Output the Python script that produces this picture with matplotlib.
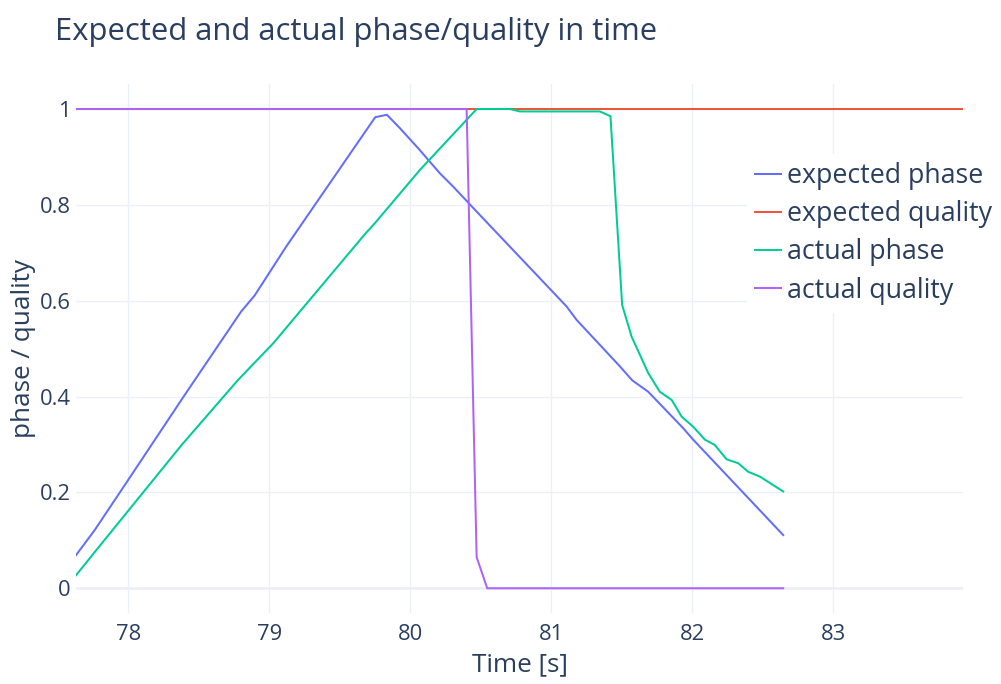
import matplotlib
matplotlib.use("Agg")
import matplotlib.pyplot as plt

# ---- data ----
exp_phase_t = [77.63, 77.764, 78.0, 78.40, 78.80, 78.897, 79.123, 79.752, 79.835, 79.927,
               80.057, 80.21, 80.305, 80.471, 81.109, 81.18, 81.487, 81.574, 81.688,
               81.936, 82.007, 82.645]
exp_phase_v = [0.069, 0.122, 0.226, 0.403, 0.577, 0.611, 0.714, 0.983, 0.988, 0.960,
               0.918, 0.866, 0.838, 0.786, 0.588, 0.560, 0.463, 0.434, 0.410,
               0.334, 0.310, 0.111]

exp_quality_t = [77.63, 83.92]
exp_quality_v = [1.0, 1.0]

act_phase_t = [77.63, 77.764, 78.379, 78.78, 79.028, 79.679, 79.75, 80.069, 80.471, 80.707,
               80.778, 81.345, 81.42, 81.503, 81.57, 81.688, 81.77, 81.854, 81.925,
               82.007, 82.09, 82.16, 82.244, 82.326, 82.397, 82.48, 82.645]
act_phase_v = [0.027, 0.076, 0.299, 0.435, 0.511, 0.739, 0.762, 0.873, 1.0, 1.0,
               0.995, 0.995, 0.985, 0.591, 0.525, 0.449, 0.410, 0.393, 0.358,
               0.337, 0.310, 0.299, 0.269, 0.261, 0.243, 0.233, 0.202]

act_quality_t = [77.63, 80.40, 80.471, 80.546, 82.645]
act_quality_v = [1.0, 1.0, 0.065, 0.0, 0.0]

x_ticks = [78, 79, 80, 81, 82, 83]
y_ticks = [0, 0.2, 0.4, 0.6, 0.8, 1]
y_tick_labels = ["0", "0.2", "0.4", "0.6", "0.8", "1"]

series_names = ["expected phase", "expected quality", "actual phase", "actual quality"]
colors = ["#636efa", "#EF553B", "#00cc96", "#ab63fa"]

TEXT = "#2a3f5f"
GRID = "#ebf0f8"

plt.rcParams["font.family"] = ["Open Sans", "DejaVu Sans"]

fig = plt.figure(figsize=(10.01, 6.84), dpi=100)
ax = fig.add_axes([76 / 1001, 1 - 613 / 684, (963 - 76) / 1001, (613 - 84.3) / 684])

lw = 1.45
series = [(exp_phase_t, exp_phase_v), (exp_quality_t, exp_quality_v),
          (act_phase_t, act_phase_v), (act_quality_t, act_quality_v)]
for (t, v), name, c in zip(series, series_names, colors):
    ax.plot(t, v, color=c, lw=lw, label=name, solid_joinstyle="round", zorder=3)

all_t = exp_phase_t + exp_quality_t + act_phase_t + act_quality_t
ax.set_xlim(min(all_t), max(all_t))
ax.set_ylim(-0.0516, 1.0516)

ax.set_xticks(x_ticks)
ax.set_yticks(y_ticks)
ax.set_yticklabels(y_tick_labels)
ax.grid(True, color=GRID, lw=1.0, zorder=0)
ax.axhline(0, color=GRID, lw=1.8, zorder=1)
for s in ax.spines.values():
    s.set_visible(False)
ax.tick_params(axis="both", length=0, labelsize=15.8, colors=TEXT)
ax.tick_params(axis="x", pad=8)
ax.tick_params(axis="y", pad=3.8)

ax.set_xlabel("Time [s]", fontsize=18.8, color=TEXT, labelpad=5.5)
ax.set_ylabel("phase / quality", fontsize=18.8, color=TEXT, labelpad=3)

fig.text(55 / 1001, 1 - 40 / 684, "Expected and actual phase/quality in time",
         fontsize=22.3, color=TEXT, ha="left", va="baseline")

leg = fig.legend(loc="upper left", bbox_to_anchor=(747 / 1001, 1 - 154 / 684),
                 fontsize=19.3, frameon=True, handlelength=0.97, handletextpad=0.21,
                 labelspacing=0.38, borderpad=0.3, borderaxespad=0)
leg.get_frame().set_facecolor("white")
leg.get_frame().set_edgecolor("none")
leg.get_frame().set_alpha(1)
leg.get_frame().set_boxstyle("square", pad=0)
for txt in leg.get_texts():
    txt.set_color(TEXT)

fig.savefig("out.png", dpi=100)
